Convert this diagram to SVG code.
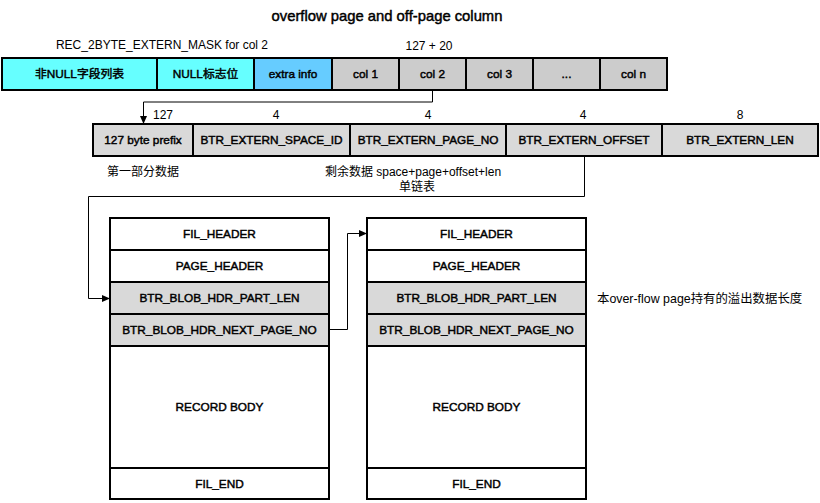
<svg xmlns="http://www.w3.org/2000/svg" width="820" height="503" viewBox="0 0 820 503">
<style>
text{font-family:"Liberation Sans","Noto Sans CJK SC",sans-serif;fill:#000}
.c{font-size:11.8px;text-anchor:middle;stroke:#000;stroke-width:0.45}
.l{font-size:12px;text-anchor:middle}
.la{font-size:12px}
.t{font-size:14.8px;text-anchor:middle;stroke:#000;stroke-width:0.45}
.cell{stroke:#000;stroke-width:2}
.cy{fill:#66FFFF}
.bl{fill:#66CCFF}
.g1{fill:#CCCCCC}
.g2{fill:#D9D9D9}
.w{fill:#FFFFFF}
.con{fill:none;stroke:#000;stroke-width:1}
</style>
<defs>
<marker id="ah" markerWidth="8" markerHeight="8" refX="7" refY="4" orient="auto" markerUnits="userSpaceOnUse">
<path d="M0,0.5 L8,4 L0,7.5 Z" fill="#000"/>
</marker>
</defs>
<rect width="820" height="503" fill="#FFFFFF"/>
<text class="t" x="387" y="21">overflow page and off-page column</text>
<text class="l" x="162" y="49">REC_2BYTE_EXTERN_MASK for col 2</text>
<text class="l" x="429" y="50">127 + 20</text>

<g id="record">
<g id="r-nonnull"><rect class="cell cy" x="2" y="58" width="155" height="32"/><text class="c" x="79.5" y="78">非NULL字段列表</text></g>
<g id="r-nullflag"><rect class="cell cy" x="157" y="58" width="97" height="32"/><text class="c" x="205.5" y="78">NULL标志位</text></g>
<g id="r-extra"><rect class="cell bl" x="254" y="58" width="78" height="32"/><text class="c" x="293" y="78">extra info</text></g>
<g id="r-col1"><rect class="cell g1" x="332" y="58" width="67" height="32"/><text class="c" x="365.5" y="78">col 1</text></g>
<g id="r-col2"><rect class="cell g1" x="399" y="58" width="67" height="32"/><text class="c" x="432.5" y="78">col 2</text></g>
<g id="r-col3"><rect class="cell g1" x="466" y="58" width="67" height="32"/><text class="c" x="499.5" y="78">col 3</text></g>
<g id="r-dots"><rect class="cell g1" x="533" y="58" width="67" height="32"/><text class="c" x="566.5" y="78">...</text></g>
<g id="r-coln"><rect class="cell g1" x="600" y="58" width="67" height="32"/><text class="c" x="633.5" y="78">col n</text></g>
</g>

<text class="la" x="153" y="119">127</text>
<text class="l" x="276" y="119">4</text>
<text class="l" x="428" y="119">4</text>
<text class="l" x="583" y="119">4</text>
<text class="l" x="740" y="119">8</text>

<g id="extern">
<g id="e-prefix"><rect class="cell g2" x="93" y="124" width="100" height="32"/><text class="c" x="143" y="144">127 byte prefix</text></g>
<g id="e-space"><rect class="cell g2" x="193" y="124" width="157" height="32"/><text class="c" x="271.5" y="144">BTR_EXTERN_SPACE_ID</text></g>
<g id="e-page"><rect class="cell g2" x="350" y="124" width="156" height="32"/><text class="c" x="428" y="144">BTR_EXTERN_PAGE_NO</text></g>
<g id="e-offset"><rect class="cell g2" x="506" y="124" width="156" height="32"/><text class="c" x="584" y="144">BTR_EXTERN_OFFSET</text></g>
<g id="e-len"><rect class="cell g2" x="662" y="124" width="156" height="32"/><text class="c" x="740" y="144">BTR_EXTERN_LEN</text></g>
</g>

<text class="la" x="107" y="176">第一部分数据</text>
<text class="l" x="413" y="176">剩余数据 space+page+offset+len</text>
<text class="l" x="417" y="191">单链表</text>

<g id="page1">
<rect class="cell w" x="110" y="218" width="219" height="32"/><text class="c" x="219.5" y="238">FIL_HEADER</text>
<rect class="cell w" x="110" y="250" width="219" height="32"/><text class="c" x="219.5" y="270">PAGE_HEADER</text>
<rect class="cell g2" x="110" y="282" width="219" height="32"/><text class="c" x="219.5" y="302">BTR_BLOB_HDR_PART_LEN</text>
<rect class="cell g2" x="110" y="314" width="219" height="32"/><text class="c" x="219.5" y="334">BTR_BLOB_HDR_NEXT_PAGE_NO</text>
<rect class="cell w" x="110" y="346" width="219" height="122"/><text class="c" x="219.5" y="411">RECORD BODY</text>
<rect class="cell w" x="110" y="468" width="219" height="31"/><text class="c" x="219.5" y="488">FIL_END</text>
</g>

<g id="page2">
<rect class="cell w" x="367" y="218" width="219" height="32"/><text class="c" x="476.5" y="238">FIL_HEADER</text>
<rect class="cell w" x="367" y="250" width="219" height="32"/><text class="c" x="476.5" y="270">PAGE_HEADER</text>
<rect class="cell g2" x="367" y="282" width="219" height="32"/><text class="c" x="476.5" y="302">BTR_BLOB_HDR_PART_LEN</text>
<rect class="cell g2" x="367" y="314" width="219" height="32"/><text class="c" x="476.5" y="334">BTR_BLOB_HDR_NEXT_PAGE_NO</text>
<rect class="cell w" x="367" y="346" width="219" height="122"/><text class="c" x="476.5" y="411">RECORD BODY</text>
<rect class="cell w" x="367" y="468" width="219" height="31"/><text class="c" x="476.5" y="488">FIL_END</text>
</g>

<text class="la" x="597" y="303" style="font-size:12.4px">本over-flow page持有的溢出数据长度</text>

<g id="connectors">
<path class="con" d="M432.5,90 V102 H143.5 V123" marker-end="url(#ah)"/>
<path class="con" d="M584.5,156 V196.5 H88.5 V298.5 H109" marker-end="url(#ah)"/>
<path class="con" d="M329,329.5 H347.5 V233.5 H366" marker-end="url(#ah)"/>
</g>
</svg>
